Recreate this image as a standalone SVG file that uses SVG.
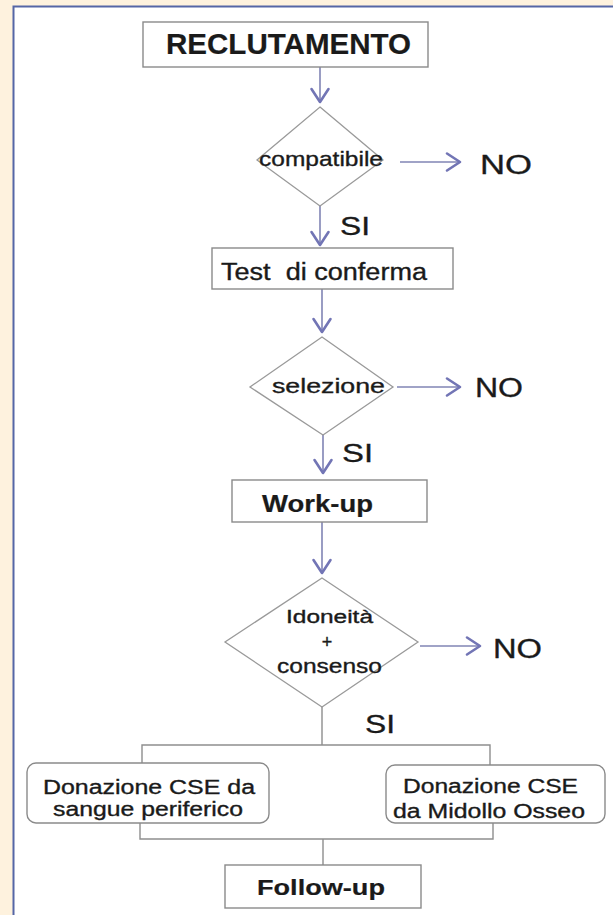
<svg xmlns="http://www.w3.org/2000/svg" width="613" height="915" viewBox="0 0 613 915">
<defs>
<style>
.box{fill:#fff;stroke:#8a8a8a;stroke-width:1.4}
.dia{fill:#fff;stroke:#9a9a9a;stroke-width:1.3}
.t{font-family:"Liberation Sans",Arial,sans-serif;fill:#1a1a1a;stroke:#1a1a1a;stroke-width:0.35}
.b{font-weight:bold;stroke-width:0.2}
.arr{stroke:#8084b4;stroke-width:1.6;fill:none;marker-end:url(#chev)}
.con{stroke:#8e8e8e;stroke-width:1.4;fill:none}
</style>
<marker id="chev" markerUnits="userSpaceOnUse" viewBox="-15 -11 17 22" markerWidth="17" markerHeight="22" refX="0" refY="0" orient="auto">
<path d="M-13,-8.5 L0,0 L-13,8.5" fill="none" stroke="#7275b5" stroke-width="2.6" stroke-linejoin="round" stroke-linecap="round"/>
</marker>
</defs>
<rect x="0" y="0" width="613" height="915" fill="#fef2de"/>
<rect x="13.5" y="6.5" width="620" height="920" fill="#fff" stroke="#5566a6" stroke-width="2"/>

<g id="connectors">
<line class="arr" x1="320" y1="67" x2="320" y2="102"/>
<line class="arr" x1="320" y1="206" x2="320" y2="245"/>
<line class="arr" x1="322" y1="289" x2="322" y2="332"/>
<line class="arr" x1="323" y1="435" x2="323" y2="473"/>
<line class="arr" x1="322" y1="522" x2="322" y2="573"/>
<line class="arr" x1="400" y1="162" x2="460" y2="162"/>
<line class="arr" x1="397" y1="387" x2="460" y2="387"/>
<line class="arr" x1="420" y1="646" x2="480" y2="646"/>
<path class="con" d="M322,707 V745 M142,763 V745 H490 V765"/>
<path class="con" d="M140,823 V839 H493 V823 M323,839 V865"/>
</g>

<g id="reclutamento">
<rect class="box" x="143" y="22" width="285" height="45"/>
<text class="t b" x="166" y="54" font-size="29" textLength="245" lengthAdjust="spacingAndGlyphs">RECLUTAMENTO</text>
</g>

<g id="compatibile">
<polygon class="dia" points="320,107 383,160 320,206 257,160"/>
<text class="t" x="259" y="166" font-size="21" textLength="124" lengthAdjust="spacingAndGlyphs">compatibile</text>
</g>
<g id="no1"><text class="t" x="480" y="174" font-size="27" textLength="52" lengthAdjust="spacingAndGlyphs">NO</text></g>
<g id="si1"><text class="t" x="340" y="235" font-size="25" textLength="30" lengthAdjust="spacingAndGlyphs">SI</text></g>

<g id="test">
<rect class="box" x="212" y="248" width="241" height="41"/>
<text class="t" x="221" y="280" font-size="23" textLength="206" lengthAdjust="spacingAndGlyphs" style="white-space:pre">Test  di conferma</text>
</g>

<g id="selezione">
<polygon class="dia" points="322,337 393,387 323,435 250,387"/>
<text class="t" x="272" y="393" font-size="21" textLength="113" lengthAdjust="spacingAndGlyphs">selezione</text>
</g>
<g id="no2"><text class="t" x="475" y="397" font-size="27" textLength="48" lengthAdjust="spacingAndGlyphs">NO</text></g>
<g id="si2"><text class="t" x="342" y="462" font-size="25" textLength="31" lengthAdjust="spacingAndGlyphs">SI</text></g>

<g id="workup">
<rect class="box" x="232" y="480" width="195" height="42"/>
<text class="t b" x="262" y="512" font-size="24" textLength="111" lengthAdjust="spacingAndGlyphs">Work-up</text>
</g>

<g id="idoneita">
<polygon class="dia" points="322,578 418,642 322,707 225,642"/>
<text class="t" x="286" y="623" font-size="18" textLength="87" lengthAdjust="spacingAndGlyphs">Idoneità</text>
<text class="t" x="327" y="648" font-size="18" text-anchor="middle">+</text>
<text class="t" x="277" y="673" font-size="20" textLength="105" lengthAdjust="spacingAndGlyphs">consenso</text>
</g>
<g id="no3"><text class="t" x="493" y="658" font-size="27" textLength="49" lengthAdjust="spacingAndGlyphs">NO</text></g>
<g id="si3"><text class="t" x="365" y="733" font-size="25" textLength="30" lengthAdjust="spacingAndGlyphs">SI</text></g>

<g id="sangue">
<rect class="box" x="27" y="763" width="242" height="60" rx="9"/>
<text class="t" x="43" y="794" font-size="20" textLength="212" lengthAdjust="spacingAndGlyphs">Donazione CSE da</text>
<text class="t" x="53" y="816" font-size="20" textLength="190" lengthAdjust="spacingAndGlyphs">sangue periferico</text>
</g>

<g id="midollo">
<rect class="box" x="386" y="765" width="219" height="58" rx="9"/>
<text class="t" x="403" y="793" font-size="20" textLength="175" lengthAdjust="spacingAndGlyphs">Donazione CSE</text>
<text class="t" x="393" y="818" font-size="20" textLength="192" lengthAdjust="spacingAndGlyphs">da Midollo Osseo</text>
</g>

<g id="followup">
<rect class="box" x="225" y="865" width="196" height="43"/>
<text class="t b" x="257" y="895" font-size="22" textLength="128" lengthAdjust="spacingAndGlyphs">Follow-up</text>
</g>
</svg>
